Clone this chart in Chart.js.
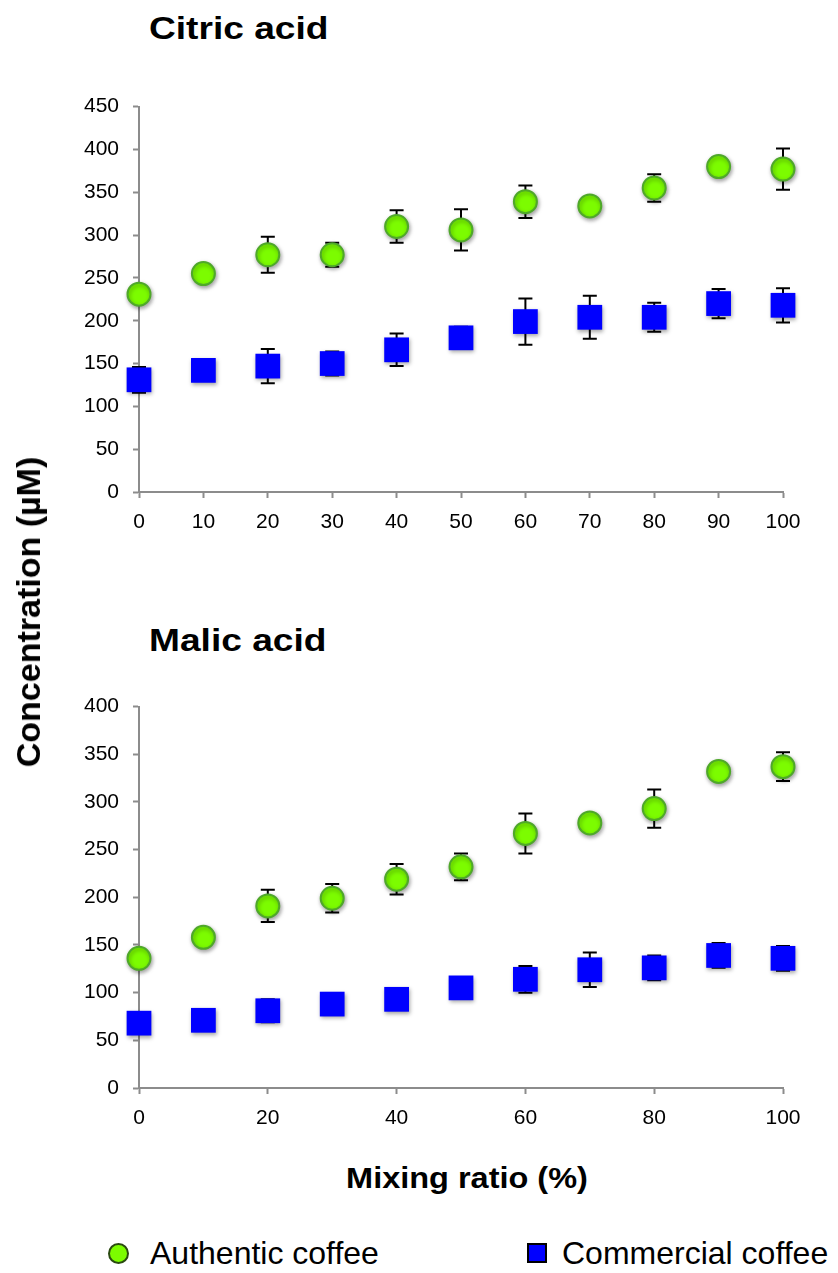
<!DOCTYPE html>
<html>
<head>
<meta charset="utf-8">
<script src="https://cdn.jsdelivr.net/npm/chart.js@4.4.1/dist/chart.umd.min.js"></script>
<style>
  html, body { margin: 0; padding: 0; background: #ffffff; }
  body { width: 838px; height: 1273px; position: relative; overflow: hidden;
         font-family: "Liberation Sans", Arial, Helvetica, sans-serif; color: #000; }
  .box { position: absolute; left: 0; width: 838px; height: 470px; }
  .ptitle { position: absolute; font-weight: bold; font-size: 32px; line-height: 1;
            white-space: nowrap; transform-origin: left top; transform: scaleX(1.16); }
  #ytitle { position: absolute; left: 28px; top: 612px; font-weight: bold; font-size: 34px;
            line-height: 1; white-space: nowrap; transform: translate(-50%, -50%) rotate(-90deg); }
  #xtitle { position: absolute; left: 0; width: 934px; top: 1164px; text-align: center;
            font-weight: bold; font-size: 29px; line-height: 1; white-space: nowrap;
            transform-origin: 467px 50%; transform: scaleX(1.12); }
  .legtext { position: absolute; top: 1237px; font-size: 32px; line-height: 1; white-space: nowrap; }
  .legcircle { position: absolute; width: 17px; height: 17px; border-radius: 50%;
               background: #7CFC00; border: 2px solid #2a4a10; }
  .legsquare { position: absolute; width: 16px; height: 16px; background: #0000FF;
               border: 2px solid #000; }
</style>
</head>
<body>
<div class="ptitle" style="left:149px; top:12px;">Citric acid</div>
<div class="box" style="top:80px;"><canvas id="c1"></canvas></div>
<div class="ptitle" style="left:149px; top:624px;">Malic acid</div>
<div class="box" style="top:680px;"><canvas id="c2"></canvas></div>
<div id="ytitle">Concentration (µM)</div>
<div id="xtitle">Mixing ratio (%)</div>
<div class="legcircle" style="left:108px; top:1243px;"></div>
<div class="legtext" style="left:150px;">Authentic coffee</div>
<div class="legsquare" style="left:527px; top:1243px;"></div>
<div class="legtext" style="left:562px;">Commercial coffee</div>

<script>
// ---------------- DATA ----------------
const mixingRatio = [0, 10, 20, 30, 40, 50, 60, 70, 80, 90, 100];

const citricAuthentic     = [231, 255, 277, 277, 310, 306, 339, 334, 355, 380, 377];
const citricAuthenticErr  = [5, 5, 21, 14, 19, 24, 19, 5, 16, 5, 24];
const citricCommercial    = [131, 142, 147, 150, 166, 180, 199, 204, 204, 220, 218];
const citricCommercialErr = [15, 5, 20, 14, 19, 13, 27, 25, 17, 17, 20];

const malicAuthentic      = [136, 158, 191, 199, 219, 232, 267, 278, 293, 332, 337];
const malicAuthenticErr   = [5, 5, 17, 15, 16, 14, 21, 5, 20, 5, 15];
const malicCommercial     = [68, 71, 81, 88, 93, 105, 114, 124, 126, 139, 136];
const malicCommercialErr  = [5, 5, 12, 5, 5, 5, 14, 18, 13, 13, 13];

const seriesNames = ["Authentic coffee", "Commercial coffee"];
const citricYTicks = { max: 450, step: 50 };
const malicYTicks  = { max: 400, step: 50 };
const citricXStep = 10;
const malicXStep = 20;

// ---------------- STYLE ----------------
const FONT = "'Liberation Sans', Arial, Helvetica, sans-serif";
Chart.defaults.font.family = FONT;
Chart.defaults.color = '#000';
const AXIS = '#8c8c8c';

const errorBars = {
  id: 'errorBars',
  beforeDatasetsDraw(chart) {
    const { ctx, scales: { x, y } } = chart;
    ctx.save();
    ctx.strokeStyle = '#000';
    ctx.lineWidth = 2;
    chart.data.datasets.forEach(ds => {
      const errs = ds.errors;
      if (!errs) return;
      ds.data.forEach((p, j) => {
        const px = x.getPixelForValue(p.x);
        const top = y.getPixelForValue(p.y + errs[j]);
        const bot = y.getPixelForValue(p.y - errs[j]);
        const w = 7;
        ctx.beginPath();
        ctx.moveTo(px, top); ctx.lineTo(px, bot);
        ctx.moveTo(px - w, top); ctx.lineTo(px + w, top);
        ctx.moveTo(px - w, bot); ctx.lineTo(px + w, bot);
        ctx.stroke();
      });
    });
    ctx.restore();
  }
};

const markerShadow = {
  id: 'markerShadow',
  beforeDatasetDraw(chart) {
    const c = chart.ctx;
    c.save();
    c.shadowColor = 'rgba(0,0,0,0.35)';
    c.shadowBlur = 4;
    c.shadowOffsetX = 1;
    c.shadowOffsetY = 2;
  },
  afterDatasetDraw(chart) { chart.ctx.restore(); }
};

function pts(vals) { return vals.map((v, i) => ({ x: mixingRatio[i], y: v })); }

function makeChart(id, auth, authErr, comm, commErr, xStep, yT, padTop, padBottom) {
  const axisCommon = {
    grid: { display: true, drawOnChartArea: false, drawTicks: true, tickLength: 6,
            tickWidth: 2, tickColor: AXIS },
    border: { display: true, color: AXIS, width: 2 }
  };
  return new Chart(document.getElementById(id), {
    type: 'scatter',
    data: {
      datasets: [
        { label: seriesNames[0], data: pts(auth), errors: authErr,
          pointStyle: 'circle', pointRadius: 11.5, pointBackgroundColor: '#7CFC00',
          pointBorderColor: '#4FA82A', pointBorderWidth: 2, clip: false, showLine: false },
        { label: seriesNames[1], data: pts(comm), errors: commErr,
          pointStyle: 'rect', pointRadius: 17.5, pointBackgroundColor: '#0000FF',
          pointBorderColor: '#0000E8', pointBorderWidth: 0, clip: false, showLine: false }
      ]
    },
    options: {
      responsive: true, maintainAspectRatio: false, animation: false, events: [],
      layout: { padding: { left: 0, right: 55, top: padTop, bottom: padBottom } },
      plugins: { legend: { display: false }, tooltip: { enabled: false }, title: { display: false } },
      scales: {
        x: Object.assign({
          type: 'linear', min: 0, max: 100,
          ticks: { stepSize: xStep, autoSkip: false, maxRotation: 0, padding: 12,
                   font: { size: 21 }, color: '#000' },
          afterFit(s) { s.height = 40; }
        }, axisCommon),
        y: Object.assign({
          type: 'linear', min: 0, max: yT.max,
          ticks: { stepSize: yT.step, autoSkip: false, padding: 14,
                   font: { size: 21 }, color: '#000' },
          afterFit(s) { s.width = 139; }
        }, axisCommon)
      }
    },
    plugins: [errorBars, markerShadow]
  });
}

makeChart('c1', citricAuthentic, citricAuthenticErr, citricCommercial, citricCommercialErr,
          citricXStep, citricYTicks, 23, 18);
makeChart('c2', malicAuthentic, malicAuthenticErr, malicCommercial, malicCommercialErr,
          malicXStep, malicYTicks, 22, 22);
</script>
</body>
</html>
